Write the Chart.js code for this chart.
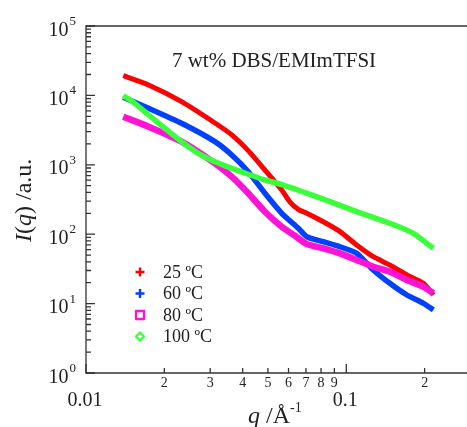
<!DOCTYPE html>
<html>
<head>
<meta charset="utf-8">
<script src="https://cdn.jsdelivr.net/npm/chart.js@4.4.1/dist/chart.umd.min.js"></script>
<style>
  body { margin: 0; background: #fff; }
  canvas { display: block; }
</style>
</head>
<body>
<canvas id="myChart" width="467" height="427"></canvas>
<script>

// series (q in 1/A, I in a.u.)
const q25 = [0.0139, 0.0174, 0.0233, 0.0313, 0.0363, 0.0420, 0.0487, 0.0565, 0.0608, 0.0654, 0.0705, 0.0816, 0.0946, 0.1096, 0.127, 0.147, 0.171, 0.198, 0.216];
const i25 = [19230, 14120, 8120, 4000, 2700, 1600, 841, 433, 290, 228, 200, 151, 109, 70, 47.4, 36, 25.8, 19.6, 13.3];

const q60 = [0.0139, 0.0174, 0.0233, 0.0313, 0.0363, 0.0420, 0.0487, 0.0565, 0.0654, 0.0705, 0.0816, 0.0946, 0.1096, 0.127, 0.147, 0.171, 0.198, 0.216];
const i60 = [9390, 6520, 3963, 2153, 1384, 796, 388, 200, 122, 92, 78, 66, 53, 30.5, 19.6, 13.3, 10.1, 8.1];

const q80 = [0.0139, 0.0174, 0.0233, 0.0313, 0.0363, 0.0420, 0.0487, 0.0565, 0.0635, 0.0705, 0.0816, 0.0946, 0.1096, 0.127, 0.147, 0.171, 0.198, 0.216];
const i80 = [4930, 3540, 2153, 1051, 674, 388, 211, 128, 95, 72, 62.6, 53, 42.5, 34, 28.8, 21.9, 17.5, 14.1];

const q100 = [0.0139, 0.0154, 0.0174, 0.0201, 0.0233, 0.0270, 0.0313, 0.0363, 0.0420, 0.0487, 0.0565, 0.0654, 0.0816, 0.1096, 0.147, 0.181, 0.216];
const i100 = [9900, 7690, 5220, 3357, 2153, 1465, 1109, 890, 730, 604, 520, 430, 320, 211, 144, 103, 62.6];

const seriesNames = ['25 \u00baC', '60 \u00baC', '80 \u00baC', '100 \u00baC'];
const seriesColors = ['rgb(255,0,0)', 'rgb(0,64,255)', 'rgb(255,20,215)', 'rgb(60,255,60)'];
const seriesMarks = ['cross', 'cross', 'square', 'diamond'];
const seriesWidths = [5, 5.5, 6.5, 5.5];

const xMajor = [0.01, 0.1];
const xMajorLabels = ['0.01', '0.1'];
const xMinorMult = [2, 3, 4, 5, 6, 7, 8, 9];
const yDecades = [0, 1, 2, 3, 4, 5];

const title = '7 wt% DBS/EMImTFSI';

const toPts = (qs, is) => qs.map((q, k) => ({x: q, y: is[k]}));

const serif = '"Liberation Serif", "DejaVu Serif", serif';

function drawMark(ctx, type, color, cx, cy){
    ctx.save();
    ctx.strokeStyle = color;
    ctx.lineWidth = 2.4;
    ctx.lineJoin = 'round';
    ctx.beginPath();
    if(type == 'cross'){
        ctx.moveTo(cx - 4.5, cy); ctx.lineTo(cx + 4.5, cy);
        ctx.moveTo(cx, cy - 4.5); ctx.lineTo(cx, cy + 4.5);
    }else if(type == 'square'){
        ctx.rect(cx - 4, cy - 4, 8, 8);
    }else{
        ctx.moveTo(cx, cy - 4); ctx.lineTo(cx + 4, cy);
        ctx.lineTo(cx, cy + 4); ctx.lineTo(cx - 4, cy);
        ctx.closePath();
    }
    ctx.stroke();
    ctx.restore();
}

const axesPlugin = {
    id: 'axesPlugin',
    afterDraw(chart){
        const ctx = chart.ctx;
        const a = chart.chartArea;
        const xs = chart.scales.x;
        const ys = chart.scales.y;
        ctx.save();
        ctx.strokeStyle = '#333';
        ctx.lineWidth = 1.3;
        ctx.beginPath();
        ctx.moveTo(a.right + 2, a.top); ctx.lineTo(a.left, a.top);
        ctx.lineTo(a.left, a.bottom); ctx.lineTo(a.right + 2, a.bottom);
        ctx.stroke();

        // y ticks (inside)
        ctx.beginPath();
        yDecades.forEach(d => {
            const v = Math.pow(10, d);
            const py = ys.getPixelForValue(v);
            ctx.moveTo(a.left, py); ctx.lineTo(a.left + 9, py);
            if(d < 5){
                xMinorMult.forEach(m => {
                    const p = ys.getPixelForValue(m * v);
                    ctx.moveTo(a.left, p); ctx.lineTo(a.left + 5, p);
                });
            }
        });
        // x ticks (inside)
        xMajor.forEach(v => {
            const px = xs.getPixelForValue(v);
            ctx.moveTo(px, a.bottom); ctx.lineTo(px, a.bottom - 9);
            xMinorMult.forEach(m => {
                if(m * v <= xs.max){
                    const p = xs.getPixelForValue(m * v);
                    ctx.moveTo(p, a.bottom); ctx.lineTo(p, a.bottom - 5);
                }
            });
        });
        ctx.stroke();

        ctx.fillStyle = '#222';
        // y tick labels 10^n
        yDecades.forEach(d => {
            const py = ys.getPixelForValue(Math.pow(10, d));
            ctx.font = '13px ' + serif;
            ctx.textAlign = 'left';
            ctx.fillText(String(d), 69.5, py - 1);
            ctx.font = '20px ' + serif;
            ctx.textAlign = 'right';
            ctx.fillText('10', 68.5, py + 9.5);
        });
        // x tick labels
        ctx.textAlign = 'center';
        ctx.font = '20px ' + serif;
        xMajor.forEach((v, k) => {
            ctx.fillText(xMajorLabels[k], xs.getPixelForValue(v) - 1, 406);
        });
        ctx.font = '14px ' + serif;
        xMajor.forEach(v => {
            xMinorMult.forEach(m => {
                if(m * v <= xs.max){
                    ctx.fillText(String(m), xs.getPixelForValue(m * v), 387);
                }
            });
        });

        // title
        ctx.font = '21px ' + serif;
        ctx.fillText(title, 274, 67);

        // x axis title: q /A^-1
        ctx.textAlign = 'left';
        let tx = 248;
        ctx.font = 'italic 24px ' + serif;
        ctx.fillText('q', tx, 423);
        tx += ctx.measureText('q').width;
        ctx.font = '24px ' + serif;
        ctx.fillText(' /\u00c5', tx, 423);
        tx += ctx.measureText(' /\u00c5').width;
        ctx.font = '14px ' + serif;
        ctx.fillText('-1', tx, 412);

        // y axis title: I(q) /a.u.
        ctx.save();
        ctx.translate(31, 242);
        ctx.rotate(-Math.PI / 2);
        const parts = [['I', true], ['(', false], ['q', true], [') /a.u.', false]];
        let ty = 0;
        parts.forEach(p => {
            ctx.font = (p[1] ? 'italic ' : '') + '24px ' + serif;
            ctx.fillText(p[0], ty, 0);
            ty += ctx.measureText(p[0]).width;
        });
        ctx.restore();

        // legend
        chart.data.datasets.forEach((ds, k) => {
            const cy = 272 + k * 21.5;
            drawMark(ctx, seriesMarks[k], ds.borderColor, 140, cy);
            ctx.fillStyle = '#222';
            ctx.font = '18px ' + serif;
            ctx.textAlign = 'left';
            ctx.fillText(ds.label, 163, cy + 5.5);
        });
        ctx.restore();
    }
};

const curves = [toPts(q25, i25), toPts(q60, i60), toPts(q80, i80), toPts(q100, i100)];
const drawOrder = [3, 2, 1, 0];

const info = {
    datasets: curves.map((pts, k) => ({
        label: seriesNames[k],
        data: pts,
        showLine: true,
        borderColor: seriesColors[k],
        backgroundColor: seriesColors[k],
        borderWidth: seriesWidths[k],
        pointRadius: 0,
        tension: 0.2,
        order: drawOrder[k]
    }))
};

const config = {
    type: 'scatter',
    data: info,
    options: {
        responsive: false,
        animation: false,
        devicePixelRatio: 1,
        layout: { padding: { left: 86, right: 1, top: 26, bottom: 54 } },
        plugins: { legend: { display: false }, tooltip: { enabled: false } },
        scales: {
            x: { type: 'logarithmic', min: 0.01, max: 0.2884, display: false },
            y: { type: 'logarithmic', min: 1, max: 100000, display: false }
        }
    },
    plugins: [axesPlugin]
};

window.addEventListener('DOMContentLoaded', () => {
    new Chart(document.getElementById('myChart'), config);
});
</script>
</body>
</html>
